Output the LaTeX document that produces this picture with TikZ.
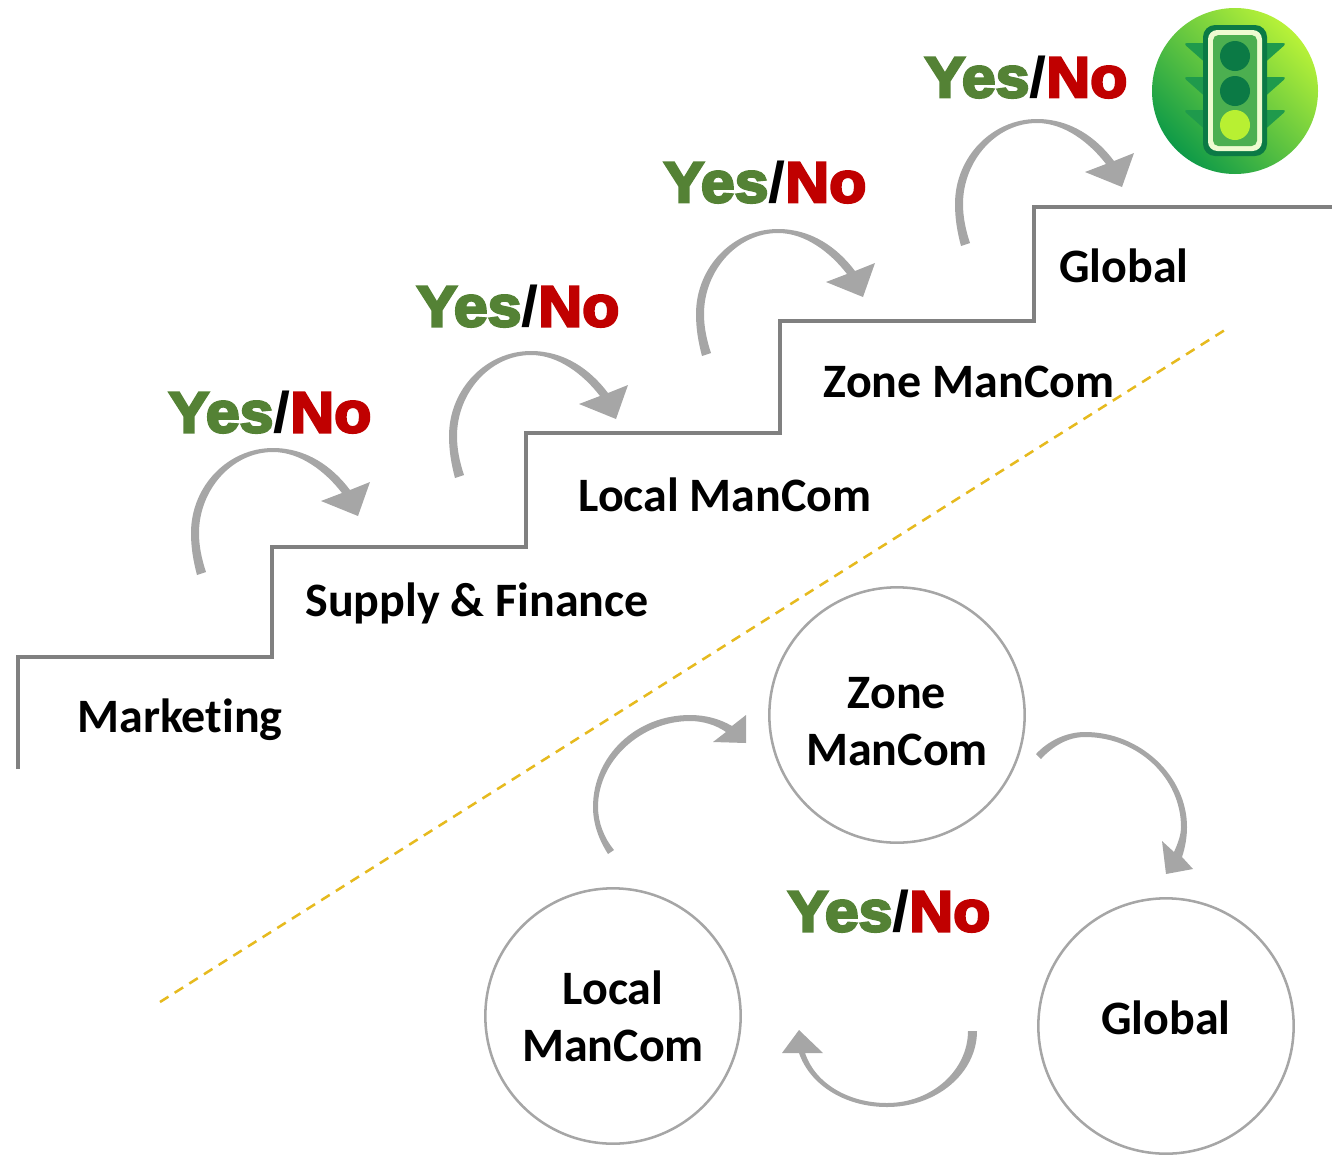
\documentclass[tikz,border=0pt]{standalone}
\usepackage{fontspec}
\setmainfont[Ligatures=NoCommon]{Carlito}
\newfontfamily\ynfont[FakeBold=4.5,FakeStretch=1.06]{Liberation Sans Bold}
\newfontfamily\ynslash[FakeStretch=1.06]{Liberation Sans Bold}
\usetikzlibrary{calc}
\definecolor{stairgray}{HTML}{808080}
\definecolor{arrowgray}{HTML}{A6A6A6}
\definecolor{yesgreen}{HTML}{548235}
\definecolor{nored}{HTML}{C00000}
\definecolor{dashgold}{HTML}{E6BA1E}
\definecolor{tlA}{HTML}{0E9A48}
\definecolor{tlM}{HTML}{3CB53F}
\definecolor{tlB}{HTML}{B8F238}
\definecolor{tlDark}{HTML}{0B7A45}
\definecolor{tlWing}{HTML}{1F9A4C}
\definecolor{tlFace}{HTML}{4CAF50}
\definecolor{tlCream}{HTML}{EEFBD0}
\definecolor{tlLamp}{HTML}{B8F032}
\tikzset{
  x=0.75pt,y=-0.75pt,
  stairline/.style={draw=stairgray,line width=3pt,line join=miter},
  lbl/.style={font=\fontsize{36}{44}\selectfont\bfseries,text=black,align=center,inner sep=0pt},
  ring/.style={circle,draw=arrowgray,line width=1.9pt,minimum size=191.5pt,inner sep=0pt,align=center,font=\fontsize{36}{36}\selectfont\bfseries},
  yn/.style={font=\fontsize{43}{46}\ynfont,inner sep=0pt},
  guide/.style={draw=dashgold,line width=1.9pt,dash pattern=on 7.5pt off 5.5pt},
  pics/climb/.style={code={
    \fill[arrowgray] (197,575) .. controls (193,560) and (191,547) .. (191,533)
      .. controls (191,486) and (228,448) .. (273,448)
      .. controls (306,448) and (332,466) .. (350,490)
      -- (370,482) -- (358,516) -- (321,501) -- (342,493)
      .. controls (325,471) and (300,452) .. (273,452)
      .. controls (232,452) and (199,490) .. (199,533)
      .. controls (199,547) and (202,560) .. (206,572) -- cycle;
  }}
}
\newcommand{\yesno}{\textcolor{yesgreen}{Yes}\textcolor{black}{\ynslash /}\textcolor{nored}{No}}
\begin{document}
\begin{tikzpicture}
\useasboundingbox (0,0) rectangle (1332,1154);
% stairs
\coordinate (s0) at (18,769);
\coordinate (s1) at (18,657);
\coordinate (s2) at (272,657);
\coordinate (s3) at (272,547);
\coordinate (s4) at (526,547);
\coordinate (s5) at (526,433);
\coordinate (s6) at (780,433);
\coordinate (s7) at (780,321);
\coordinate (s8) at (1034,321);
\coordinate (s9) at (1034,207);
\coordinate (s10) at (1332,207);
\draw[stairline] (s0)--(s1)--(s2)--(s3)--(s4)--(s5)--(s6)--(s7)--(s8)--(s9)--(s10);
\coordinate (d0) at (160,1002);
\coordinate (d1) at (1228,328);
\draw[guide] (d0)--(d1);
% labels
\node[lbl] (marketing) at (180,720) {Marketing};
\node[lbl] (supply) at (477,603) {Supply \& Finance};
\node[lbl] (localm) at (725,495) {Local ManCom};
\node[lbl] (zonem) at (969,382) {Zone ManCom};
\node[lbl] (globalm) at (1124,266) {Global};
% yes no
\node[yn] (yn1) at (270,412) {\yesno};
\node[yn] (yn2) at (518,306) {\yesno};
\node[yn] (yn3) at (765,182) {\yesno};
\node[yn] (yn4) at (1026,77) {\yesno};
\node[yn] (yn5) at (889,911) {\yesno};
% stair arrows
\pic at (0,0) {climb};
\pic at (258,-97) {climb};
\pic at (505,-219) {climb};
\pic at (764,-329) {climb};
% circles
\node[ring] (zone) at (897,715) {\rule{0pt}{33pt}Zone\\[7pt]ManCom};
\node[ring] (local) at (613,1016) {Local\\[7pt]ManCom};
\node[ring] (global) at (1166,1026) {\raisebox{-6pt}[0pt][0pt]{Global}};
% cycle arrows
\fill[arrowgray] (608,854) .. controls (599,840) and (593,824) .. (593,807)
  .. controls (593,756) and (636,715) .. (690,715)
  .. controls (706,715) and (720,719) .. (732,726)
  -- (746,715) -- (746,743) -- (713,742) -- (726,732)
  .. controls (716,725) and (703,721) .. (690,721)
  .. controls (642,721) and (598,760) .. (598,807)
  .. controls (598,822) and (604,838) .. (614,850) -- cycle;
\fill[arrowgray] (1036,754) .. controls (1048,741) and (1066,732) .. (1085,732)
  .. controls (1140,732) and (1187,776) .. (1187,827)
  .. controls (1187,838) and (1185,848) .. (1182,857)
  -- (1193,869) -- (1166,874) -- (1162,841) -- (1174,852)
  .. controls (1178,843) and (1181,835) .. (1181,827)
  .. controls (1181,778) and (1138,737) .. (1085,737)
  .. controls (1068,737) and (1053,746) .. (1041,759) -- cycle;
\fill[arrowgray] (977,1031) .. controls (977,1073) and (937,1107) .. (887,1107)
  .. controls (845,1107) and (810,1085) .. (799,1053)
  -- (782,1053) -- (799,1030) -- (823,1053) -- (805,1053)
  .. controls (815,1083) and (848,1103) .. (887,1103)
  .. controls (932,1103) and (968,1070) .. (968,1031) -- cycle;
% traffic light icon
\shade[bottom color=tlA,middle color=tlM,top color=tlB,shading angle=-45] (1235,91) circle[radius=83];
\foreach \yy in {43,77,110}{
  \fill[tlWing,rounded corners=3pt] (1183,\yy) -- (1287,\yy) -- (1235,\yy+46) -- cycle;
}
\fill[tlDark,rounded corners=9pt] (1203,25) rectangle (1267,156);
\fill[tlCream,rounded corners=7pt] (1208,30) rectangle (1262,151);
\fill[tlFace,rounded corners=4pt] (1213,35) rectangle (1257,146);
\fill[tlDark] (1235,56) circle[radius=15];
\fill[tlDark] (1235,91) circle[radius=15];
\fill[tlLamp] (1235,125) circle[radius=15];
\end{tikzpicture}
\end{document}
